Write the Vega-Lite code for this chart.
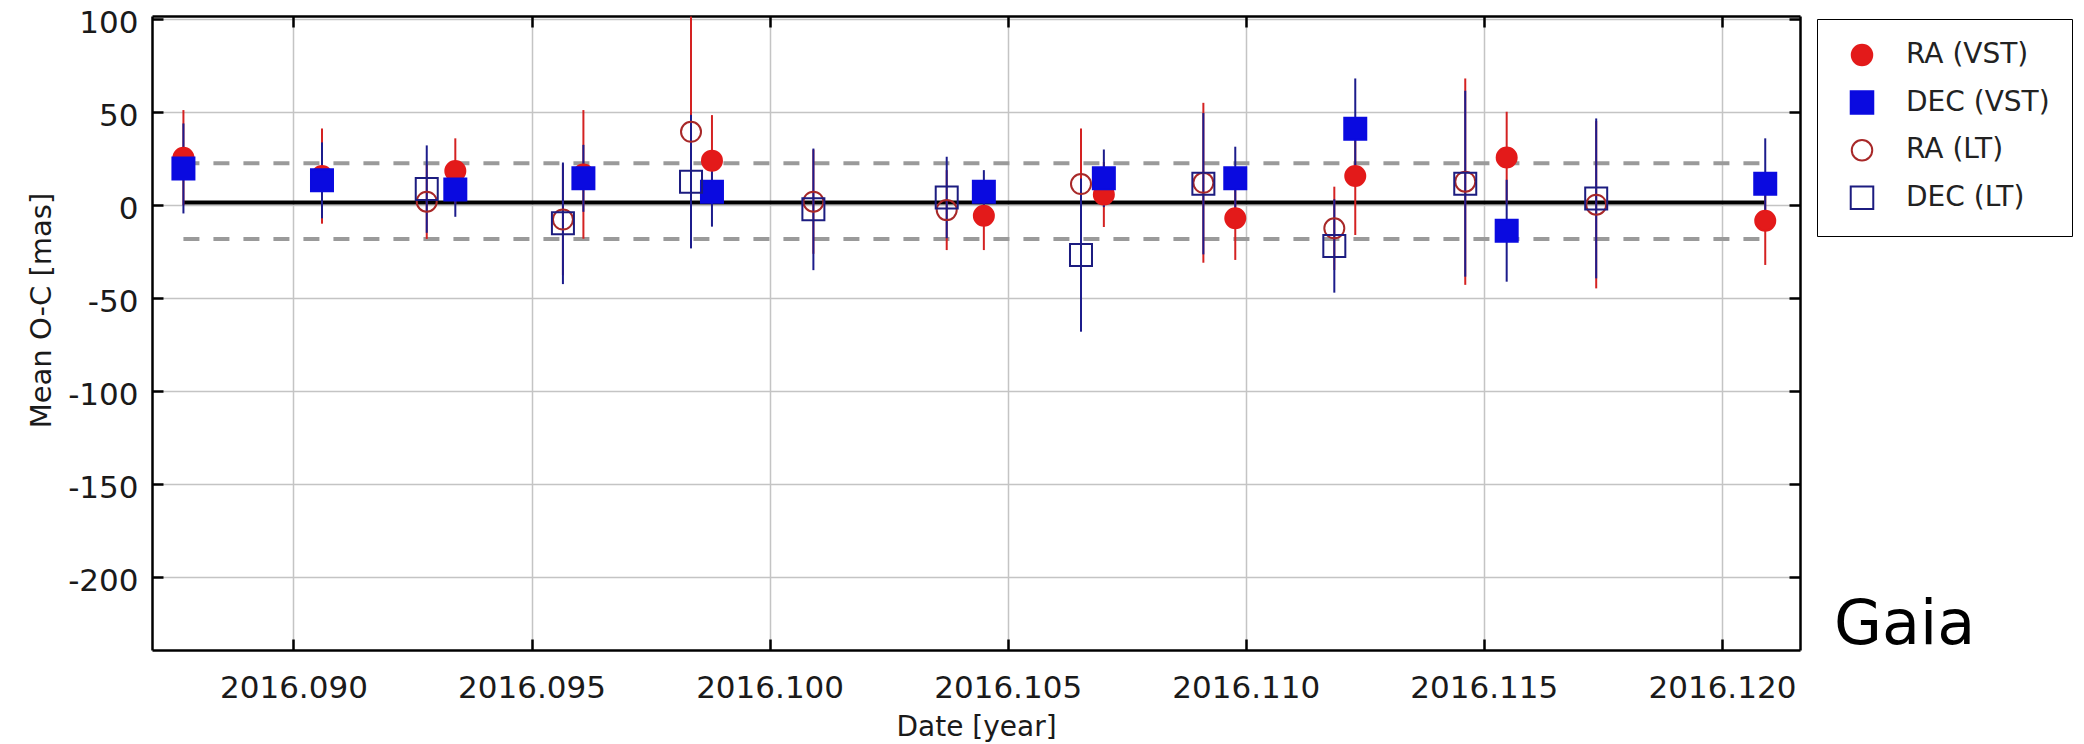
{
  "$schema": "https://vega.github.io/schema/vega-lite/v6.json",
  "width": 1648,
  "height": 634,
  "autosize": {"type": "none"},
  "padding": {"left": 152, "top": 16, "right": 284, "bottom": 94},
  "background": "white",
  "config": {
    "view": {"stroke": null},
    "axis": {
      "labelFont": "DejaVu Sans",
      "titleFont": "DejaVu Sans",
      "labelColor": "#1a1a1a",
      "titleColor": "#1a1a1a",
      "titleFontWeight": "normal",
      "domainColor": "black",
      "domainWidth": 2.5,
      "tickColor": "black",
      "tickWidth": 2.5,
      "tickSize": -11,
      "gridColor": "#c4c4c4",
      "gridWidth": 1.5,
      "gridOpacity": 1,
      "labelFlush": false
    }
  },
  "title": {
    "text": "Gaia",
    "orient": "bottom",
    "anchor": "end",
    "frame": "group",
    "align": "left",
    "baseline": "alphabetic",
    "dx": 34,
    "dy": -97,
    "offset": 0,
    "font": "DejaVu Sans",
    "fontSize": 62,
    "fontWeight": "normal",
    "color": "black"
  },
  "datasets": {
    "lines": [
      {"kind": "mean", "y": 1.2, "start": 2016.08769, "end": 2016.12091},
      {"kind": "sigma", "y": 22.3, "start": 2016.08769, "end": 2016.1208},
      {"kind": "sigma", "y": -18.4, "start": 2016.08769, "end": 2016.1208}
    ],
    "obs": [
      {"date": 2016.08769, "series": "RA (VST)", "value": 25.3, "err": 25.6},
      {"date": 2016.0906, "series": "RA (VST)", "value": 15.4, "err": 25.6},
      {"date": 2016.0934, "series": "RA (VST)", "value": 18.1, "err": 17.6},
      {"date": 2016.09609, "series": "RA (VST)", "value": 16.3, "err": 34.6},
      {"date": 2016.09879, "series": "RA (VST)", "value": 23.7, "err": 24.5},
      {"date": 2016.1045, "series": "RA (VST)", "value": -5.9, "err": 18.5},
      {"date": 2016.10702, "series": "RA (VST)", "value": 5.5, "err": 17.5},
      {"date": 2016.10978, "series": "RA (VST)", "value": -7.3, "err": 22.4},
      {"date": 2016.1123, "series": "RA (VST)", "value": 15.4, "err": 31.7},
      {"date": 2016.11548, "series": "RA (VST)", "value": 25.4, "err": 24.6},
      {"date": 2016.12091, "series": "RA (VST)", "value": -8.6, "err": 23.8},
      {"date": 2016.08769, "series": "DEC (VST)", "value": 19.5, "err": 24.2},
      {"date": 2016.0906, "series": "DEC (VST)", "value": 13.1, "err": 20.4},
      {"date": 2016.0934, "series": "DEC (VST)", "value": 8.2, "err": 14.7},
      {"date": 2016.09609, "series": "DEC (VST)", "value": 14.2, "err": 18},
      {"date": 2016.09879, "series": "DEC (VST)", "value": 7.0, "err": 18.8},
      {"date": 2016.1045, "series": "DEC (VST)", "value": 7.0, "err": 11.6},
      {"date": 2016.10702, "series": "DEC (VST)", "value": 14.2, "err": 15.5},
      {"date": 2016.10978, "series": "DEC (VST)", "value": 14.2, "err": 17},
      {"date": 2016.1123, "series": "DEC (VST)", "value": 40.9, "err": 27},
      {"date": 2016.11548, "series": "DEC (VST)", "value": -14.0, "err": 27.4},
      {"date": 2016.12091, "series": "DEC (VST)", "value": 11.3, "err": 24.4},
      {"date": 2016.0928, "series": "RA (LT)", "value": 1.6, "err": 20},
      {"date": 2016.09566, "series": "RA (LT)", "value": -8.0, "err": 30},
      {"date": 2016.09835, "series": "RA (LT)", "value": 39.2, "err": 62},
      {"date": 2016.10092, "series": "RA (LT)", "value": 1.6, "err": 28},
      {"date": 2016.10372, "series": "RA (LT)", "value": -2.9, "err": 21.5},
      {"date": 2016.10654, "series": "RA (LT)", "value": 11.1, "err": 29.9},
      {"date": 2016.10911, "series": "RA (LT)", "value": 11.8, "err": 43},
      {"date": 2016.11186, "series": "RA (LT)", "value": -12.7, "err": 22.4},
      {"date": 2016.11461, "series": "RA (LT)", "value": 12.4, "err": 55.5},
      {"date": 2016.11736, "series": "RA (LT)", "value": 0.0, "err": 45},
      {"date": 2016.0928, "series": "DEC (LT)", "value": 8.4, "err": 23.5},
      {"date": 2016.09566, "series": "DEC (LT)", "value": -10.0, "err": 32.7},
      {"date": 2016.09835, "series": "DEC (LT)", "value": 12.4, "err": 35.9},
      {"date": 2016.10092, "series": "DEC (LT)", "value": -2.5, "err": 32.7},
      {"date": 2016.10372, "series": "DEC (LT)", "value": 3.9, "err": 21.9},
      {"date": 2016.10654, "series": "DEC (LT)", "value": -27.1, "err": 41.2},
      {"date": 2016.10911, "series": "DEC (LT)", "value": 11.3, "err": 38},
      {"date": 2016.11186, "series": "DEC (LT)", "value": -22.2, "err": 25.1},
      {"date": 2016.11461, "series": "DEC (LT)", "value": 11.3, "err": 50},
      {"date": 2016.11736, "series": "DEC (LT)", "value": 3.4, "err": 43}
    ]
  },
  "resolve": {"axis": {"x": "independent", "y": "independent"}},
  "layer": [
    {
      "data": {"name": "lines"},
      "transform": [{"filter": "datum.kind === 'mean'"}],
      "mark": {"type": "rule", "color": "black", "strokeWidth": 4},
      "encoding": {
        "x": {
          "field": "start", "type": "quantitative",
          "scale": {"domain": [2016.08703, 2016.12164], "nice": false, "zero": false},
          "axis": {
            "orient": "bottom",
            "values": [2016.09, 2016.095, 2016.1, 2016.105, 2016.11, 2016.115, 2016.12],
            "format": ".3f",
            "title": "Date [year]",
            "grid": true,
            "labelFontSize": 31,
            "labelPadding": 34,
            "titleFontSize": 28,
            "titleBaseline": "alphabetic",
            "titleY": 85,
            "zindex": 0
          }
        },
        "x2": {"field": "end"},
        "y": {
          "field": "y", "type": "quantitative",
          "scale": {"domain": [-239.5, 101.5], "nice": false, "zero": false},
          "axis": {
            "orient": "left",
            "values": [-200, -150, -100, -50, 0, 50, 100],
            "labelExpr": "replace(datum.label, '\u2212', '-')",
            "title": "Mean O-C [mas]",
            "grid": true,
            "labelFontSize": 31,
            "labelPadding": 25,
            "labelOffset": 5,
            "titleFontSize": 29,
            "titleBaseline": "alphabetic",
            "titleAlign": "center",
            "titleAngle": -90,
            "titleX": -102,
            "titleY": 294,
            "zindex": 0
          }
        }
      }
    },
    {
      "data": {"name": "lines"},
      "transform": [{"filter": "datum.kind === 'sigma'"}],
      "mark": {"type": "rule", "color": "#9a9a9a", "strokeWidth": 4, "strokeDash": [16, 14]},
      "encoding": {
        "x": {
          "field": "start", "type": "quantitative",
          "scale": {"domain": [2016.08703, 2016.12164], "nice": false, "zero": false},
          "axis": {
            "orient": "top",
            "values": [2016.09, 2016.095, 2016.1, 2016.105, 2016.11, 2016.115, 2016.12],
            "labels": false,
            "grid": false,
            "title": null,
            "zindex": 0
          }
        },
        "x2": {"field": "end"},
        "y": {
          "field": "y", "type": "quantitative",
          "scale": {"domain": [-239.5, 101.5], "nice": false, "zero": false},
          "axis": {
            "orient": "right",
            "values": [-200, -150, -100, -50, 0, 50, 100],
            "labels": false,
            "grid": false,
            "title": null,
            "zindex": 0
          }
        }
      }
    },
    {
      "data": {"name": "obs"},
      "transform": [{"filter": "indexof(datum.series, 'RA') === 0"}],
      "mark": {"type": "errorbar", "ticks": false, "thickness": 2, "clip": true, "color": "#d42222"},
      "encoding": {
        "x": {"field": "date", "type": "quantitative", "axis": null},
        "y": {"field": "value", "type": "quantitative", "axis": null},
        "yError": {"field": "err"}
      }
    },
    {
      "data": {"name": "obs"},
      "transform": [{"filter": "indexof(datum.series, 'DEC') === 0"}],
      "mark": {"type": "errorbar", "ticks": false, "thickness": 2, "clip": true, "color": "#1c1c8c"},
      "encoding": {
        "x": {"field": "date", "type": "quantitative", "axis": null},
        "y": {"field": "value", "type": "quantitative", "axis": null},
        "yError": {"field": "err"}
      }
    },
    {
      "data": {"name": "obs"},
      "mark": {"type": "point", "strokeWidth": 2, "opacity": 1, "size": 400},
      "encoding": {
        "x": {"field": "date", "type": "quantitative", "axis": null},
        "y": {"field": "value", "type": "quantitative", "axis": null},
        "shape": {
          "field": "series", "type": "nominal",
          "scale": {
            "domain": ["RA (VST)", "DEC (VST)", "RA (LT)", "DEC (LT)"],
            "range": ["circle", "M-1.1,-1.1H1.1V1.1H-1.1Z", "circle", "M-1.1,-1.1H1.1V1.1H-1.1Z"]
          },
          "legend": {
            "orient": "none", "legendX": 1665, "legendY": 3, "title": null,
            "padding": 22, "strokeColor": "black", "fillColor": "white",
            "labelFont": "DejaVu Sans", "labelFontSize": 28, "labelColor": "#222222",
            "labelExpr": "datum.label + '          '",
            "labelOffset": 30, "symbolOffset": 9, "rowPadding": 16.6, "symbolSize": 420, "symbolStrokeWidth": 2
          }
        },
        "fill": {
          "field": "series", "type": "nominal",
          "scale": {
            "domain": ["RA (VST)", "DEC (VST)", "RA (LT)", "DEC (LT)"],
            "range": ["#e31a1a", "#0a0ae0", "rgba(255,255,255,0)", "rgba(255,255,255,0)"]
          },
          "legend": {
            "orient": "none", "legendX": 1665, "legendY": 3, "title": null,
            "padding": 22, "strokeColor": "black", "fillColor": "white",
            "labelFont": "DejaVu Sans", "labelFontSize": 28, "labelColor": "#222222",
            "labelExpr": "datum.label + '          '",
            "labelOffset": 30, "symbolOffset": 9, "rowPadding": 16.6, "symbolSize": 420, "symbolStrokeWidth": 2
          }
        },
        "stroke": {
          "field": "series", "type": "nominal",
          "scale": {
            "domain": ["RA (VST)", "DEC (VST)", "RA (LT)", "DEC (LT)"],
            "range": ["#e31a1a", "#0a0ae0", "#a82828", "#1c1c80"]
          },
          "legend": {
            "orient": "none", "legendX": 1665, "legendY": 3, "title": null,
            "padding": 22, "strokeColor": "black", "fillColor": "white",
            "labelFont": "DejaVu Sans", "labelFontSize": 28, "labelColor": "#222222",
            "labelExpr": "datum.label + '          '",
            "labelOffset": 30, "symbolOffset": 9, "rowPadding": 16.6, "symbolSize": 420, "symbolStrokeWidth": 2
          }
        }
      }
    }
  ]
}
